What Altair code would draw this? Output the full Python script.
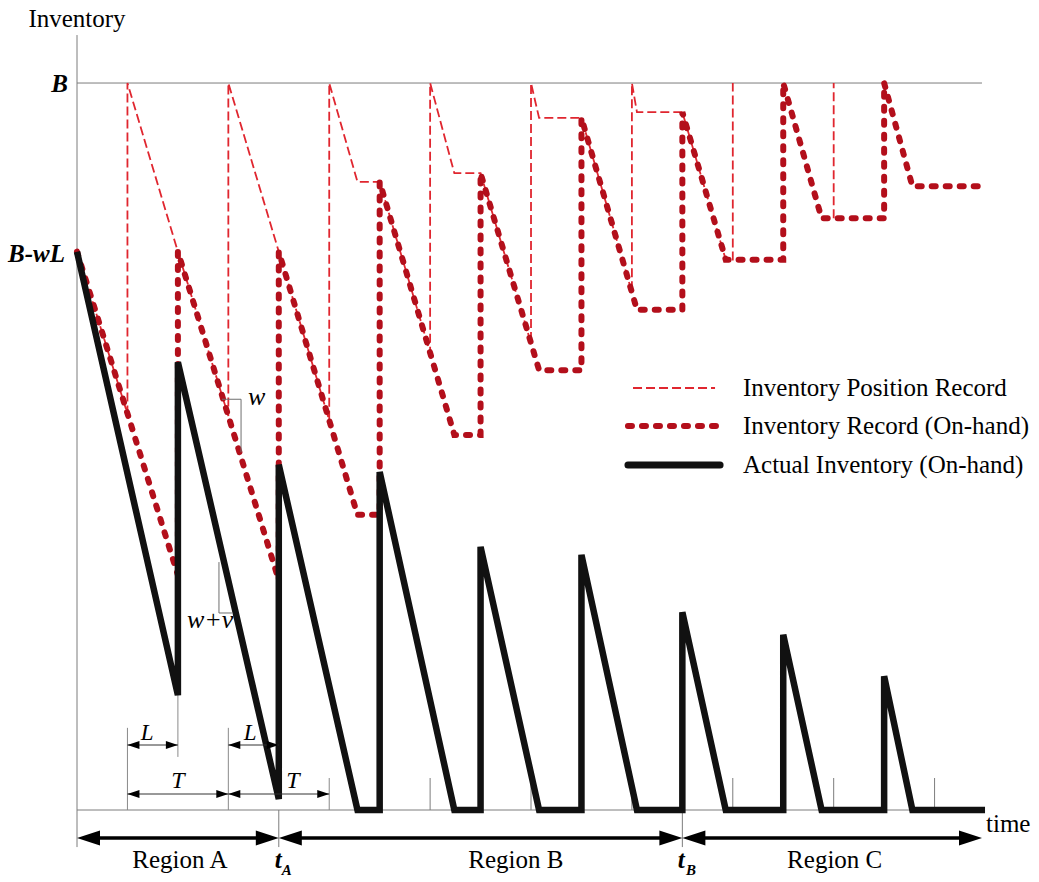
import altair as alt
import pandas as pd

# ---------------- data (time units: T = 10, L = 5; inventory units: B = 100) -------------
act_t = [0, 10, 10, 20, 20, 27.8, 30, 30, 37.4, 40, 40, 45.8, 50, 50, 55.5, 60, 60, 64.3, 70, 70, 73.8, 80, 80, 82.8, 90]
act_v = [76.8, 15.8, 61.6, 1.5, 47.5, 0, 0, 46.5, 0, 0, 36.2, 0, 0, 35.1, 0, 0, 27.2, 0, 0, 24.1, 0, 0, 18.4, 0, 0]

rec_t = [0, 10, 10, 20, 20, 27.8, 30, 30, 37.4, 40, 40, 45.8, 50, 50, 55.5, 60, 60, 64.3, 70, 70, 73.8, 80, 80, 82.8, 90]
rec_v = [76.8, 32.3, 76.8, 31.6, 76.8, 40.6, 40.6, 86.4, 51.6, 51.6, 87.6, 60.5, 60.5, 95.2, 68.8, 68.8, 96.0, 75.7, 75.7, 100, 81.4, 81.4, 100, 85.8, 85.8]

pos_t = [0, 5, 5, 10, 15, 15, 20, 25, 25, 27.8, 30, 35, 35, 37.4, 40, 45, 45, 45.8, 50, 55, 55, 55.5, 60, 64.3, 65, 65, 75, 75]
pos_v = [76.8, 54.5, 100, 76.8, 54.2, 100, 76.8, 53.6, 100, 86.4, 86.4, 62.9, 100, 87.6, 87.6, 64.2, 100, 95.2, 95.2, 71.2, 100, 96.0, 96.0, 75.7, 75.7, 100, 81.4, 100]
pos_seg = [1] * 26 + [2, 2]

order_times = [35, 45, 55, 65, 75, 85]   # small ticks on time axis
B_level = 100
region_bounds = [0, 20, 60, 89.7]
region_names = ["Region A", "Region B", "Region C"]

legend_labels = ["Inventory Position Record", "Inventory Record (On-hand)", "Actual Inventory (On-hand)"]

# ---------------- scales --------------------------------------------------------------
xs = alt.Scale(domain=[-7.632, 95.35], nice=False, zero=False)
ys = alt.Scale(domain=[-9.904, 111.42], nice=False, zero=False)

THIN_RED = "#e0262f"
DARK_RED = "#b30f1b"
FONT = "Liberation Serif"


def seg_layer(rows, color, width, dash=None, cap="butt"):
    df = pd.DataFrame(rows, columns=["x1", "y1", "x2", "y2"])
    mk = dict(color=color, strokeWidth=width, strokeCap=cap)
    if dash:
        mk["strokeDash"] = dash
    return alt.Chart(df).mark_rule(**mk).encode(
        x=alt.X("x1:Q", scale=xs, axis=None),
        y=alt.Y("y1:Q", scale=ys, axis=None),
        x2="x2:Q",
        y2="y2:Q",
    )


def line_layer(ts, vs, segs, **mk):
    df = pd.DataFrame({"t": ts, "v": vs, "seg": segs, "i": list(range(len(ts)))})
    return alt.Chart(df).mark_line(**mk).encode(
        x=alt.X("t:Q", scale=xs, axis=None),
        y=alt.Y("v:Q", scale=ys, axis=None),
        order="i:Q",
        detail="seg:N",
    )


def head_layer(pts, shape, size):
    df = pd.DataFrame(pts, columns=["x", "y"])
    return alt.Chart(df).mark_point(
        shape=shape, filled=True, size=size, color="black", opacity=1, strokeWidth=0
    ).encode(x=alt.X("x:Q", scale=xs, axis=None), y=alt.Y("y:Q", scale=ys, axis=None))


def text_layer(rows, **mk):
    df = pd.DataFrame(rows, columns=["x", "y", "label"])
    base = dict(font=FONT, color="black")
    base.update(mk)
    return alt.Chart(df).mark_text(**base).encode(
        x=alt.X("x:Q", scale=xs, axis=None),
        y=alt.Y("y:Q", scale=ys, axis=None),
        text="label:N",
    )


RIGHT = "M0,0L-1,-0.33L-1,0.33Z"
LEFT = "M0,0L1,-0.33L1,0.33Z"

layers = []

# axes / reference lines
axis_rows = [
    [0, -5.1, 0, 106.6],
    [0, B_level, 89.7, B_level],
    [0, 0, 90, 0],
    [20, 0, 20, -5.1],
    [60, 0, 60, -5.1],
] + [[t, 0, t, 4.4] for t in order_times]
layers.append(seg_layer(axis_rows, "#7d7d7d", 1))

# extension lines for dimensions
ext_rows = [[5, 0, 5, 11.3], [15, 0, 15, 11.3], [10, 7.3, 10, 15.8], [25, 0, 25, 4.4]]
layers.append(seg_layer(ext_rows, "#8a8a8a", 1))

# inventory lines
layers.append(line_layer(pos_t, pos_v, pos_seg, color=THIN_RED, strokeWidth=1.8, strokeDash=[9, 4]))
layers.append(line_layer(rec_t, rec_v, [1] * len(rec_t), color=DARK_RED, strokeWidth=6,
                         strokeDash=[4, 10], strokeCap="round"))
layers.append(line_layer(act_t, act_v, [1] * len(act_t), color="#111111", strokeWidth=6.5,
                         strokeJoin="miter"))

# dimension lines L and T
dim_rows = [[5, 8.94, 10, 8.94], [15, 8.94, 20, 8.94], [5, 2.2, 15, 2.2], [15, 2.2, 25, 2.2]]
layers.append(seg_layer(dim_rows, "#333333", 1))
layers.append(head_layer([[10, 8.94], [20, 8.94], [15, 2.2], [25, 2.2]], RIGHT, 576))
layers.append(head_layer([[5, 8.94], [15, 8.94], [5, 2.2], [15, 2.2]], LEFT, 576))

# slope brackets
br_rows = [[14.37, 56.5, 16.26, 56.5], [16.26, 56.5, 16.26, 49.2],
           [14.07, 34.1, 14.07, 27.1], [14.07, 27.1, 15.36, 27.1]]
layers.append(seg_layer(br_rows, "#6f6f6f", 1))

# region arrows
reg_y = -3.85
reg_rows = [[region_bounds[i], reg_y, region_bounds[i + 1], reg_y] for i in range(3)]
reg_df = pd.DataFrame(reg_rows, columns=["x1", "y1", "x2", "y2"])
layers.append(alt.Chart(reg_df).mark_rule(color="black", strokeWidth=3.5, xOffset=10, x2Offset=-10).encode(
    x=alt.X("x1:Q", scale=xs, axis=None), y=alt.Y("y1:Q", scale=ys, axis=None), x2="x2:Q"))
layers.append(head_layer([[region_bounds[i + 1], reg_y] for i in range(3)], RIGHT, 2116))
layers.append(head_layer([[region_bounds[i], reg_y] for i in range(3)], LEFT, 2116))

# legend samples
layers.append(seg_layer([[55.11, 58.05, 63.24, 58.05]], THIN_RED, 1.8, dash=[9, 4]))
layers.append(seg_layer([[54.61, 52.82, 63.74, 52.82]], DARK_RED, 6, dash=[4, 10], cap="round"))
layers.append(seg_layer([[54.61, 47.46, 63.74, 47.46]], "#111111", 7, cap="round"))

# texts
layers.append(text_layer([[0, 107.7, "Inventory"]], fontSize=25, align="center", baseline="alphabetic"))
layers.append(text_layer([[90.1, -3.03, "time"]], fontSize=25, align="left", baseline="alphabetic"))
layers.append(text_layer([[10.2, -7.98, region_names[0]], [43.5, -7.98, region_names[1]],
                          [75.1, -7.98, region_names[2]]], fontSize=25, align="center", baseline="alphabetic"))
layers.append(text_layer([[66.01, 58.05, legend_labels[0]], [66.01, 52.82, legend_labels[1]],
                          [66.01, 47.46, legend_labels[2]]], fontSize=25, align="left", baseline="middle"))
layers.append(text_layer([[-0.89, 98.8, "B"], [-1.19, 75.4, "B-wL"]], fontSize=25, fontStyle="italic",
                         fontWeight="bold", align="right", baseline="alphabetic"))
layers.append(text_layer([[16.95, 55.7, "w"], [10.9, 25.0, "w+v"]], fontSize=26, fontStyle="italic",
                         align="left", baseline="alphabetic"))
layers.append(text_layer([[6.94, 9.63, "L"], [17.15, 9.63, "L"]], fontSize=23, fontStyle="italic",
                         align="center", baseline="alphabetic"))
layers.append(text_layer([[10.0, 3.03, "T"], [21.4, 3.03, "T"]], fontSize=24, fontStyle="italic",
                         align="center", baseline="alphabetic"))
layers.append(text_layer([[19.95, -7.98, "t"], [59.9, -7.98, "t"]], fontSize=25, fontStyle="italic",
                         fontWeight="bold", align="center", baseline="alphabetic"))
layers.append(text_layer([[20.3, -8.94, "A"], [60.35, -8.94, "B"]], fontSize=15, fontStyle="italic",
                         fontWeight="bold", align="left", baseline="alphabetic"))

chart = alt.layer(*layers).properties(
    width=1039, height=882, padding=0, autosize=alt.AutoSizeParams(type="none"), background="white"
).configure_view(stroke=None)

chart.save("out.html", embed_options={"renderer": "svg", "actions": False})
